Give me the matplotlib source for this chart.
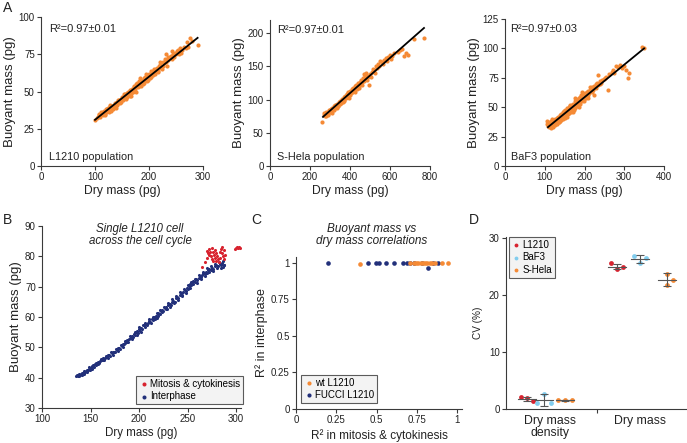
import matplotlib
matplotlib.use("Agg")
import matplotlib.pyplot as plt

plt.rcParams['font.family'] = ['Liberation Sans', 'DejaVu Sans']

ORANGE = '#f58a35'
NAVY = '#22307a'
RED = '#d8232f'
LBLUE = '#82cdee'
SPINE = '#3a3a3a'
TXT = '#222222'

# ---------------- Panel A data ----------------
a1_x = [100,105,108,110,112,114,115,117,118,120,121,122,124,125,126,128,129,130,132,133,135,136,138,139,140,141,143,145,146,148,150,151,153,155,156,158,160,162,163,165,167,168,170,172,174,175,177,178,180,182,184,185,187,190,192,194,196,198,200,203,205,208,210,212,215,218,220,222,225,228,230,232,235,238,240,243,245,248,250,253,255,258,262,265,270,275,280,290,
        116,123,131,137,144,152,159,166,171,176,181,186,191,197,201,206,213,217,224,233,247,260,
        103,107,111,119,127,134,142,149,154,157,161,164,169,173,179,183,188,193,199,204,207,211,216,221,226,231,236,242,251,256,268,273]
a1_y = [31,33,34,33,35,36,34,37,35,38,36,37,39,36,38,40,37,39,40,38,41,40,42,39,43,41,42,44,42,45,46,44,47,46,48,47,49,48,50,51,49,52,51,53,52,55,54,56,55,57,56,58,57,59,58,62,60,61,62,60,63,64,65,63,66,67,68,66,70,69,72,75,71,73,74,77,75,76,75,78,77,79,78,80,83,86,84,81,
        35,38,38,42,43,45,46,47,50,50,54,54,56,57,59,61,65,63,65,67,73,76,
        32,35,36,34,41,39,44,43,48,45,50,47,50,54,53,59,55,60,58,64,61,62,64,70,67,70,73,72,77,75,79,80]
a1_fit = (2.05, 0.2895, 100, 290)

a2_x = [262,268,272,278,282,288,292,296,300,305,308,312,316,320,324,328,332,336,340,344,348,352,356,360,364,368,372,376,380,384,388,392,396,400,404,408,412,416,420,424,428,432,436,440,444,448,452,456,460,465,470,475,480,485,490,495,500,510,520,530,540,550,560,570,580,590,600,610,620,640,660,670,680,690,720,770,
        285,300,318,335,350,362,378,395,410,425,445,462,472,478,505,515,535,
        275,290,310,325,342,358,370,386,402,418,434,450,468,488,525,545,565,585,605,650]
a2_y = [67,80,77,75,81,79,77,84,82,86,80,88,85,90,87,92,89,94,91,96,93,98,95,101,97,104,100,106,103,109,105,111,108,113,110,116,112,118,114,120,117,122,119,125,121,127,124,130,126,133,128,136,131,129,135,122,138,142,145,150,154,158,156,160,163,165,168,166,170,172,176,166,170,168,192,193,
        78,85,84,88,96,99,104,102,112,112,118,122,139,140,134,146,148,
        76,82,86,92,90,100,98,108,107,115,116,125,129,134,140,150,153,158,161,175]
a2_fit = (3.7, 0.2653, 265, 770)

a3_x = [105,106,108,110,112,113,115,116,118,120,121,122,124,125,126,128,130,131,132,134,135,136,138,139,140,141,142,144,145,146,148,149,150,151,152,154,155,156,158,159,160,161,162,164,165,166,168,169,170,172,173,174,175,176,178,179,180,182,183,184,185,186,188,189,190,192,193,195,196,198,200,202,204,205,207,209,210,212,215,218,220,222,225,228,230,232,234,235,238,240,245,250,255,260,262,268,272,275,280,285,290,295,300,305,310,312,345,349,
        117,127,137,147,157,163,171,177,187,194,199,208,214,224,242,252]
a3_y = [38,36,34,33,37,35,32,38,36,34,39,33,37,40,35,38,41,36,39,42,37,40,43,38,41,44,39,42,45,40,43,47,41,45,48,43,46,49,44,47,50,45,48,51,46,49,52,47,50,53,48,51,55,49,53,56,51,54,57,52,58,55,59,53,56,60,55,58,61,57,60,62,58,61,63,60,64,62,65,63,67,65,68,70,66,71,77,69,72,70,73,74,76,65,78,80,82,79,85,84,86,83,85,82,75,79,101,100,
        40,36,37,46,42,52,46,58,50,63,55,58,67,60,71,75]
a3_fit = (3.1, 0.2769, 108, 350)

# ---------------- Panel B data ----------------
b_int_x = [135.5,137,138,139,140,141,142,143,144,145,146,147,148,149,150,151,152,153,154,155,156,157,158,159,160,162,163,164,165,167,168,169,170,172,173,174,175,177,178,179,180,182,183,184,185,187,188,189,190,192,193,194,195,196,197,198,199,200,201,202,203,205,206,207,209,210,211,213,214,215,217,218,219,220,222,223,224,225,227,228,229,230,232,233,234,235,237,238,239,240,242,243,244,245,247,248,249,250,251,252,254,255,256,258,259,260,262,263,264,265,266,268,269,270,271,272,274,275,276,278,279,281,283,285,287,284,286,
           136,138,141,143,146,148,151,153,156,158,161,163,166,168,171,173,176,178,181,183,186,188,191,193,196,198,200,202,204,206,208,210,212,214,216,218,220,222,224,226,228,230,232,234,236,238,240,242,244,246,248,250,252,254,256,258,260,262,264,266,268,270,272,274,276,278,280,282,284,286,288]
b_int_y = [40.4,40.6,40.5,40.9,41.1,41.0,41.5,41.3,41.9,42.1,41.8,42.5,42.8,42.4,43.2,43.0,43.6,43.9,43.5,44.4,44.1,44.9,45.2,44.7,45.5,45.9,46.4,45.8,46.6,47.0,46.5,47.5,47.3,48.0,47.6,48.6,48.3,49.2,48.8,49.8,49.5,50.4,50.0,51.0,51.3,51.6,52.3,51.9,52.8,53.2,53.9,53.5,54.4,54.0,55.0,55.3,54.6,55.9,55.4,56.5,56.1,57.2,56.8,57.7,58.0,58.6,58.2,59.3,59.0,59.9,60.3,59.7,60.9,61.3,61.0,61.9,62.4,62.0,63.0,63.4,62.8,63.9,64.3,63.8,65.0,65.4,65.0,66.1,66.6,66.2,67.2,67.8,67.4,68.3,68.9,68.5,69.6,69.3,70.1,70.8,70.4,71.2,71.8,71.5,72.4,72.1,72.9,73.5,73.1,73.9,74.4,74.1,75.0,74.6,75.4,75.9,75.6,76.3,75.8,76.7,77.2,76.9,77.5,77.8,77.2,76.2,78.3,
           40.8,41.2,41.6,42.3,42.6,43.5,43.8,44.3,45.0,44.5,46.3,45.7,47.2,47.4,48.4,48.5,49.4,49.7,50.9,51.2,52.1,51.6,53.6,52.8,55.2,54.2,56.6,55.1,57.4,57.9,57.2,59.4,58.0,60.1,59.3,61.2,60.4,62.3,61.5,63.4,62.5,64.6,63.3,65.9,64.6,67.0,65.6,68.1,66.8,69.2,67.9,70.4,69.6,71.5,70.8,72.6,71.3,73.8,72.4,75.0,73.4,76.0,74.8,76.9,75.2,77.6,76.1,78.0,77.0,76.6,77.0]
b_mit_x = [265,268,270,271,272,273,274,275,276,277,278,279,280,281,282,283,284,285,286,287,288,275,276,279,283,285,272,278,270,300,301,302,303,304,299,289]
b_mit_y = [76.5,78.0,79.5,81.0,82.5,81.5,80.0,79.0,78.5,80.5,82.0,81.0,80.0,79.0,78.0,81.5,82.5,81.0,80.0,79.0,82.0,82.8,81.5,78.5,79.5,83.0,80.5,79.6,81.8,82.6,83.0,82.8,83.1,82.7,82.4,80.5]

# ---------------- Panel C data ----------------
c_fucci_x = [0.20,0.447,0.497,0.518,0.557,0.605,0.667,0.687,0.708,0.73,0.78,0.822,0.853,0.884]
c_fucci_y = [1.0,1.0,1.0,1.0,1.0,1.0,1.0,1.0,1.0,1.0,1.0,0.968,1.0,1.0]
c_wt_x = [0.40,0.71,0.73,0.745,0.76,0.775,0.79,0.80,0.815,0.83,0.845,0.86,0.905,0.946]
c_wt_y = [0.99,1.0,1.0,1.0,1.0,1.0,1.0,1.0,1.0,1.0,1.0,1.0,1.0,1.0]

# ---------------- Panel D data ----------------
d_categories = ['Dry mass\ndensity', 'Dry mass']
d_lines = ['L1210', 'BaF3', 'S-Hela']
d_points = {  # replicate CVs (%) per category
    'L1210': [[2.15, 1.4, 1.85], [25.6, 24.6, 24.9]],
    'BaF3': [[2.7, 1.0, 1.0], [26.9, 25.7, 26.5]],
    'S-Hela': [[1.55, 1.55, 1.55], [23.7, 21.8, 22.7]],
}
d_mean = {'L1210': [1.8, 25.0], 'BaF3': [1.55, 26.3], 'S-Hela': [1.55, 22.7]}
d_err = {'L1210': [0.35, 0.5], 'BaF3': [1.1, 0.7], 'S-Hela': [0.08, 1.1]}

# ---------------- figure ----------------
W, H = 687, 443
fig = plt.figure(figsize=(W/100, H/100), dpi=100)

def ax_px(l, t, r, b):
    return fig.add_axes([l/W, 1-b/H, (r-l)/W, (b-t)/H])

def style(ax):
    for s in ['top', 'right']:
        ax.spines[s].set_visible(False)
    for s in ['left', 'bottom']:
        ax.spines[s].set_color(SPINE)
        ax.spines[s].set_linewidth(0.8)
    ax.tick_params(direction='out', length=3, width=0.8, color=SPINE,
                   labelsize=7, labelcolor=TXT, pad=1.5)

XL = 8.7
YL = 9.5

def panelA(ax, x, y, fit, xlim, ylim, xt, yt, r2, name, tx, ty):
    style(ax)
    ax.scatter(x, y, s=9, color=ORANGE, linewidths=0, zorder=2)
    b0, m, x0, x1 = fit
    ax.plot([x0, x1], [b0+m*x0, b0+m*x1], color='black', lw=1.3, zorder=3)
    ax.set_xlim(*xlim); ax.set_ylim(*ylim)
    ax.set_xticks(xt); ax.set_yticks(yt)
    ax.set_xlabel('Dry mass (pg)', fontsize=XL, color=TXT, labelpad=2)
    ax.set_ylabel('Buoyant mass (pg)', fontsize=YL, color=TXT, labelpad=2)
    ax.text(tx, ty, r2, transform=ax.transAxes, fontsize=8, color=TXT, va='center')
    ax.text(tx, 0.06, name, transform=ax.transAxes, fontsize=7.8, color=TXT, va='center')

ax1 = ax_px(41, 17, 203, 166)
panelA(ax1, a1_x, a1_y, a1_fit, (0, 300), (0, 100), [0, 100, 200, 300],
       [0, 25, 50, 75, 100], 'R²=0.97±0.01', 'L1210 population', 0.05, 0.92)

ax2 = ax_px(270, 20, 430, 166)
panelA(ax2, a2_x, a2_y, a2_fit, (0, 800), (0, 220), [0, 200, 400, 600, 800],
       [0, 50, 100, 150, 200], 'R²=0.97±0.01', 'S-Hela population', 0.044, 0.93)

ax3 = ax_px(505, 19, 664, 166)
panelA(ax3, a3_x, a3_y, a3_fit, (0, 400), (0, 125), [0, 100, 200, 300, 400],
       [0, 25, 50, 75, 100, 125], 'R²=0.97±0.03', 'BaF3 population', 0.035, 0.93)

# Panel B
axB = ax_px(42, 226, 241, 408)
style(axB)
axB.scatter(b_int_x, b_int_y, s=5, color=NAVY, linewidths=0, label='Interphase', zorder=2)
axB.scatter(b_mit_x, b_mit_y, s=5, color=RED, linewidths=0, label='Mitosis & cytokinesis', zorder=2)
axB.set_xlim(100, 305); axB.set_ylim(30, 90)
axB.set_xticks([100, 150, 200, 250, 300]); axB.set_yticks(range(30, 91, 10))
axB.set_xlabel('Dry mass (pg)', fontsize=8.3, color=TXT, labelpad=2)
axB.set_ylabel('Buoyant mass (pg)', fontsize=YL, color=TXT, labelpad=2)
h, l = axB.get_legend_handles_labels()
legB = axB.legend(h[::-1], l[::-1], loc='lower right', bbox_to_anchor=(1.01, 0.02),
                  fontsize=7, frameon=True, fancybox=False, markerscale=1.3,
                  handletextpad=0.1, borderpad=0.3, labelspacing=0.25, handlelength=1.0,
                  borderaxespad=0)
legB.get_frame().set_facecolor('#f0f0f0'); legB.get_frame().set_edgecolor('#333333')
legB.get_frame().set_linewidth(0.8)
fig.text(140/W, 1-235/H, 'Single L1210 cell\nacross the cell cycle', ha='center', va='center',
         fontsize=8.3, style='italic', color=TXT, linespacing=1.0)

# Panel C
axC = ax_px(296, 257, 462, 409)
style(axC)
axC.scatter(c_wt_x, c_wt_y, s=11, color=ORANGE, linewidths=0, label='wt L1210', zorder=3)
axC.scatter(c_fucci_x, c_fucci_y, s=11, color=NAVY, linewidths=0, label='FUCCI L1210', zorder=2)
axC.set_xlim(0, 1.03); axC.set_ylim(0, 1.041)
ticks = [0, 0.25, 0.5, 0.75, 1]
axC.set_xticks(ticks); axC.set_yticks(ticks)
axC.set_xticklabels(['0', '0.25', '0.5', '0.75', '1'])
axC.set_yticklabels(['0', '0.25', '0.5', '0.75', '1'])
axC.set_xlabel('R² in mitosis & cytokinesis', fontsize=8.5, color=TXT, labelpad=3)
axC.set_ylabel('R² in interphase', fontsize=9, color=TXT, labelpad=2)
legC = axC.legend(loc='lower left', bbox_to_anchor=(0.03, 0.04), fontsize=7, frameon=True,
                  fancybox=False, handletextpad=0.1, borderpad=0.3, labelspacing=0.25,
                  handlelength=1.0, borderaxespad=0, markerscale=0.9)
legC.get_frame().set_facecolor('#f0f0f0'); legC.get_frame().set_edgecolor('#333333')
legC.get_frame().set_linewidth(0.8)
fig.text(372/W, 1-235/H, 'Buoyant mass vs\ndry mass correlations', ha='center', va='center',
         fontsize=8.5, style='italic', color=TXT, linespacing=1.0)

# Panel D
axD = ax_px(506, 237, 687, 409)
style(axD)
d_pos = {'L1210': [1.05, 5.55], 'BaF3': [1.9, 6.7], 'S-Hela': [2.95, 8.05]}
d_jit = {'L1210': [[-0.3, 0.3, 0.0], [-0.3, 0.0, 0.3]],
         'BaF3': [[0.0, -0.35, 0.35], [-0.3, 0.0, 0.3]],
         'S-Hela': [[-0.35, 0.0, 0.35], [0.0, 0.0, 0.3]]}
d_col = {'L1210': RED, 'BaF3': LBLUE, 'S-Hela': ORANGE}
for name in d_lines:
    for ci in range(2):
        xc = d_pos[name][ci]
        xs = [xc + j for j in d_jit[name][ci]]
        axD.scatter(xs, d_points[name][ci], s=12, color=d_col[name], linewidths=0, zorder=2,
                    label=name if ci == 0 else None)
        m = d_mean[name][ci]; e = d_err[name][ci]
        axD.plot([xc-0.45, xc+0.45], [m, m], color='#555555', lw=0.8, zorder=3)
        axD.errorbar([xc], [m], yerr=[e], fmt='none', ecolor='#555555', elinewidth=0.8,
                     capsize=3, capthick=0.8, zorder=3)
axD.set_xlim(0, 9.05); axD.set_ylim(0, 30.2)
axD.set_yticks([0, 10, 20, 30])
axD.set_xticks([2.2, 6.7])
axD.set_xticklabels(d_categories, fontsize=8.8, color=TXT, linespacing=1.0)
axD.tick_params(axis='x', length=0, pad=4)
axD.set_xticks([4.55], minor=True)
axD.tick_params(axis='x', which='minor', length=3, width=0.8, color=SPINE, direction='out')
axD.set_ylabel('CV (%)', fontsize=7.2, color=TXT, labelpad=4)
legD = axD.legend(loc='upper left', bbox_to_anchor=(0.015, 1.0), fontsize=7, frameon=True,
                  fancybox=False, handletextpad=0.1, borderpad=0.3, labelspacing=0.25,
                  handlelength=1.0, borderaxespad=0, markerscale=0.8)
legD.get_frame().set_facecolor('#f0f0f0'); legD.get_frame().set_edgecolor('#333333')
legD.get_frame().set_linewidth(0.8)

# Panel letters
for lt, x, y in [('A', 8, 8), ('B', 8, 220), ('C', 256, 220), ('D', 474, 220)]:
    fig.text(x/W, 1-y/H, lt, fontsize=10, ha='center', va='center', color=TXT)

fig.savefig('out.png', dpi=100)
